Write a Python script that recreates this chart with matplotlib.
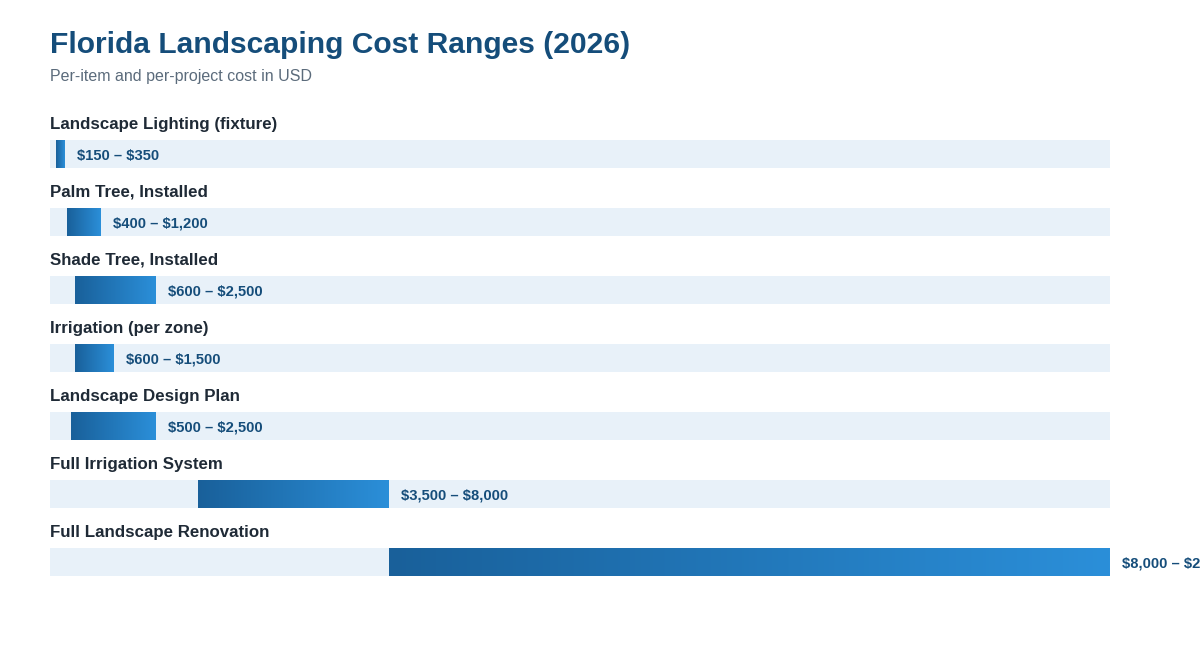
import numpy as np
import matplotlib.pyplot as plt
from matplotlib.colors import LinearSegmentedColormap

plt.rcParams['font.family'] = ['Liberation Sans', 'DejaVu Sans']

# Data
categories = [
    "Landscape Lighting (fixture)",
    "Palm Tree, Installed",
    "Shade Tree, Installed",
    "Irrigation (per zone)",
    "Landscape Design Plan",
    "Full Irrigation System",
    "Full Landscape Renovation",
]
low = [150, 400, 600, 600, 500, 3500, 8000]
high = [350, 1200, 2500, 1500, 2500, 8000, 25000]
x_max = 25000

W, H = 1200, 646
fig = plt.figure(figsize=(W / 100, H / 100), dpi=100)

# axes: x from 50px to 1110px, rows spaced 68px, first track centre at 154px
row_px = 68
y_top, y_bot = -0.9, 6.5
px_top = 154 + row_px * y_top
px_bot = 154 + row_px * y_bot
ax = fig.add_axes([50 / W, (H - px_bot) / H, 1060 / W, (px_bot - px_top) / H])
ax.set_axis_off()

cmap = LinearSegmentedColormap.from_list("blue", ["#19609a", "#2b8fd9"])
grad = np.linspace(0, 1, 256).reshape(1, -1)
half = 14 / row_px

for i, (name, lo, hi) in enumerate(zip(categories, low, high)):
    ax.barh(i, x_max, height=2 * half, left=0, color="#e8f1f9", zorder=1)
    ax.imshow(grad, cmap=cmap, extent=[lo, hi, i + half, i - half],
              aspect='auto', zorder=2, interpolation='bilinear')
    ax.text(0, i - 30 / row_px, name, fontsize=12.2, fontweight='bold',
            color="#1f2a36", va='center', ha='left')
    # last label runs off the right edge, as in the original
    ax.annotate(f"\\${lo:,} – \\${hi:,}", xy=(hi, i), xytext=(8.6, -1.2),
                textcoords='offset points', fontsize=10.6, fontweight='bold',
                color="#154d7a", va='center', ha='left', annotation_clip=False)

ax.set_xlim(0, x_max)
ax.set_ylim(y_bot, y_top)

fig.text(50 / W, 1 - 45 / H, "Florida Landscaping Cost Ranges (2026)",
         fontsize=21.6, fontweight='bold', color="#154d7a", va='center', ha='left')
fig.text(50 / W, 1 - 76 / H, "Per-item and per-project cost in USD",
         fontsize=11.5, color="#5b6b7b", va='center', ha='left')

fig.savefig("out.png", dpi=100, facecolor='white')
